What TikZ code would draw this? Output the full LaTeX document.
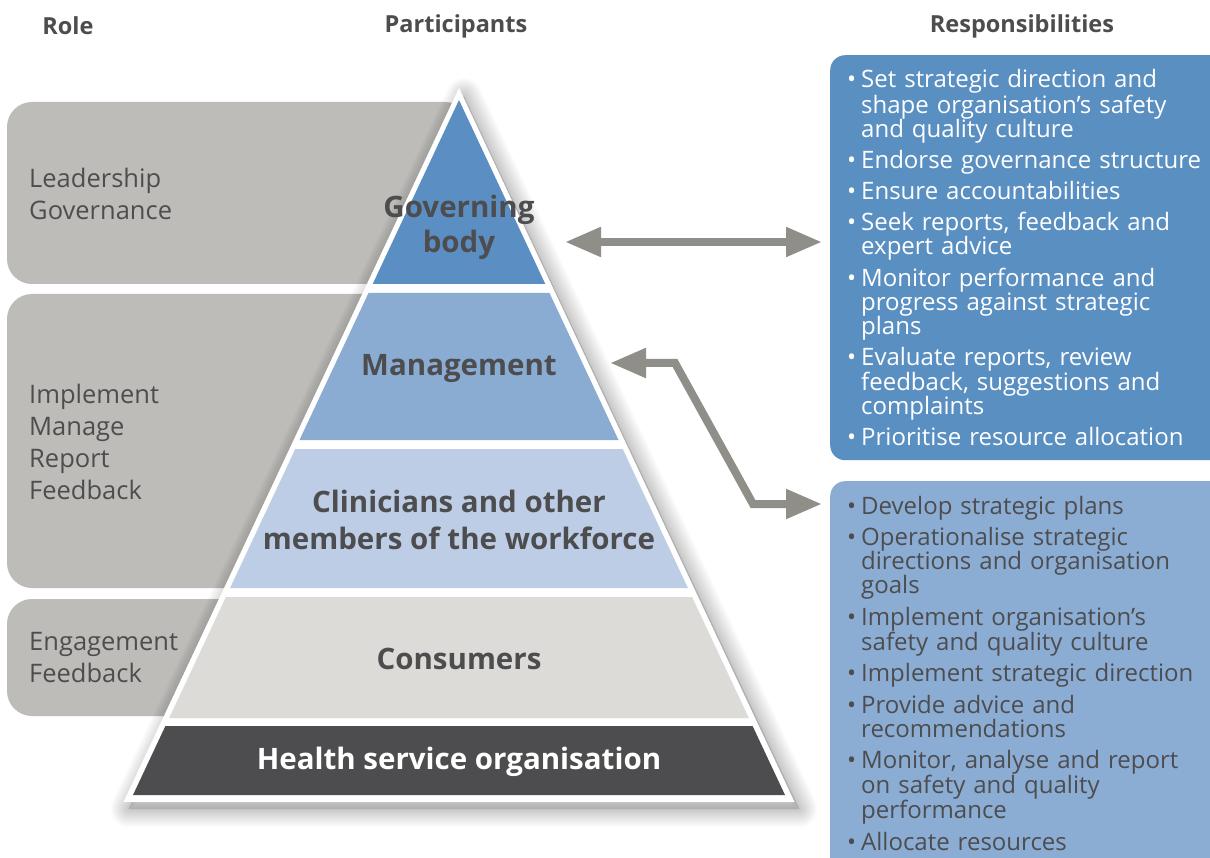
\documentclass[tikz,border=0pt]{standalone}
\usepackage{fontspec}
\setmainfont{Open Sans}
\usetikzlibrary{arrows.meta}
\definecolor{txt}{HTML}{4D4D4F}
\definecolor{roleg}{HTML}{BDBCB8}
\definecolor{gbc}{HTML}{5B8FC3}
\definecolor{mgc}{HTML}{8AACD3}
\definecolor{clc}{HTML}{BCCDE5}
\definecolor{coc}{HTML}{DCDBD8}
\definecolor{hsc}{HTML}{4D4D4F}
\definecolor{boxa}{HTML}{5A8FC2}
\definecolor{boxb}{HTML}{8BADD4}
\definecolor{arrg}{HTML}{8F8E88}
\newcommand\bitem[1]{\noindent\hangindent=14pt\hangafter=1\makebox[14pt][l]{\textbullet}#1\par}
\begin{document}
\begin{tikzpicture}[x=1pt,y=-1pt,
  head/.style={font=\fontsize{23.5}{28}\selectfont\bfseries, text=txt, inner sep=0},
  rolebox/.style={fill=roleg, rounded corners=25pt},
  roletxt/.style={font=\fontsize{25.5}{32}\selectfont, text=txt, align=left, anchor=west, inner sep=0},
  plabel/.style={font=\fontsize{29.5}{35}\selectfont\bfseries, text=txt, align=center, inner sep=0},
  respbox/.style={inner sep=0, anchor=north west, rounded corners=15pt},
  resptxt/.style={font=\fontsize{24}{24}\selectfont, anchor=base west, text width=380pt, align=left, inner sep=0},
  shadowline/.style={draw=black, opacity=0.012, line join=round},
  arr/.style={draw=arrg, line width=8pt, line join=miter, {Triangle[length=36pt,width=28pt]}-{Triangle[length=36pt,width=28pt]}}
]
\useasboundingbox (0,0) rectangle (1210,858);
\fill[white] (0,0) rectangle (1210,858);

% headers
\node[head] (hrole) at (68,26) {Role};
\node[head] (hpart) at (456,26) {Participants};
\node[head] (hresp) at (1022,26) {Responsibilities};

% role boxes
\fill[rolebox] (7,102) rectangle (470,284);
\fill[rolebox] (7,294) rectangle (470,588);
\fill[rolebox] (7,599) rectangle (470,716);
\node[roletxt] (r1) at (29,194) {Leadership\\Governance};
\node[roletxt] (r2) at (29,442) {Implement\\Manage\\Report\\Feedback};
\node[roletxt] (r3) at (29,658) {Engagement\\Feedback};

% pyramid shadow
\foreach \w in {2,4,...,36} {
  \draw[shadowline, line width=\w pt] (464,96) -- (799.5,809) -- (128.5,809) -- cycle;
}
\fill[black, opacity=0.12] (464,96) -- (799.5,809) -- (128.5,809) -- cycle;
% pyramid
\fill[white] (459,88) -- (794.5,802) -- (123.5,802) -- cycle;
\fill[gbc] (459,100) -- (545.3,284) -- (372.7,284) -- cycle;
\fill[mgc] (368.5,293) -- (549.5,293) -- (618.5,440) -- (299.5,440) -- cycle;
\fill[clc] (295.3,449) -- (622.7,449) -- (687.9,588) -- (230.1,588) -- cycle;
\fill[coc] (225.9,597) -- (692.1,597) -- (748.8,718) -- (169.2,718) -- cycle;
\fill[hsc] (165.4,726) -- (752.6,726) -- (785,795) -- (133,795) -- cycle;

\node[plabel] (gb) at (459,227) {Governing\\body};
\node[plabel] (mg) at (459,369) {Management};
\node[plabel, font=\fontsize{29.5}{37}\selectfont\bfseries] (cl) at (459,520) {Clinicians and other\\members of the workforce};
\node[plabel] (co) at (459,659) {Consumers};
\node[plabel, text=white] (hs) at (459,762) {Health service organisation};

% responsibility boxes
\node[respbox, fill=boxa, minimum width=400pt, minimum height=405pt] (respA) at (830,55) {};
\node[respbox, fill=boxb, minimum width=400pt, minimum height=400pt] (respB) at (830,481) {};

\node[resptxt, text=white] (ta) at (847,88) {\setlength{\parskip}{7pt}%
\bitem{Set strategic direction and\newline shape organisation’s safety\newline and quality culture}%
\bitem{Endorse governance structure}%
\bitem{Ensure accountabilities}%
\bitem{Seek reports, feedback and\newline expert advice}%
\bitem{Monitor performance and\newline progress against strategic\newline plans}%
\bitem{Evaluate reports, review\newline feedback, suggestions and\newline complaints}%
\bitem{Prioritise resource allocation}};

\node[resptxt, text=txt] (tb) at (847,514) {\setlength{\parskip}{7.5pt}%
\bitem{Develop strategic plans}%
\bitem{Operationalise strategic\newline directions and organisation\newline goals}%
\bitem{Implement organisation’s\newline safety and quality culture}%
\bitem{Implement strategic direction}%
\bitem{Provide advice and\newline recommendations}%
\bitem{Monitor, analyse and report\newline on safety and quality\newline performance}%
\bitem{Allocate resources}};

% arrows
\coordinate (gbE) at (565,242);
\coordinate (mgE) at (610,363);
\coordinate (bend1) at (675,363);
\coordinate (bend2) at (753,504);
\draw[arr] (gbE) -- ([xshift=-8pt]respA.west |- gbE);
\draw[arr] (mgE) -- (bend1) -- (bend2) -- ([xshift=-8pt]respB.west |- bend2);
\end{tikzpicture}
\end{document}
